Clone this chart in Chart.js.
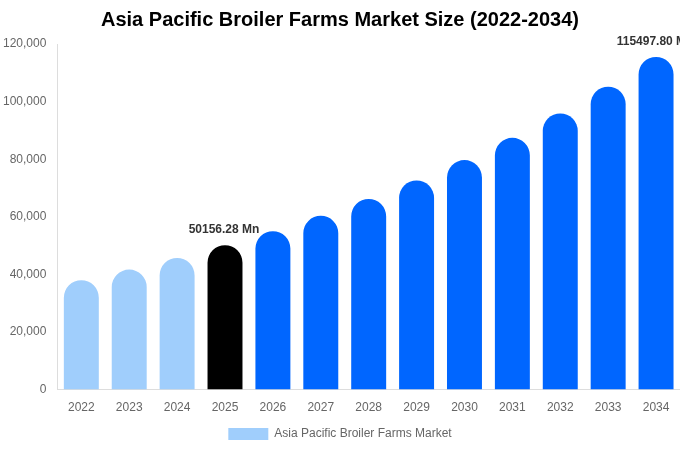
<!DOCTYPE html>
<html>
<head>
<meta charset="utf-8">
<script src="https://cdn.jsdelivr.net/npm/chart.js@4"></script>
<style>
  html, body { margin: 0; padding: 0; background: #fff; }
  #wrap { width: 680px; height: 450px; }
</style>
</head>
<body>
<div id="wrap"><canvas id="chart"></canvas></div>
<script>
// valores
const years = ['2022','2023','2024','2025','2026','2027','2028','2029','2030','2031','2032','2033','2034'];
const marketSize = [37990, 41680, 45720, 50156.28, 55020, 60360, 66210, 72630, 79680, 87410, 95890, 105190, 115497.80];
const barColors = ['#a0cefc','#a0cefc','#a0cefc','#000000','#0066ff','#0066ff','#0066ff','#0066ff','#0066ff','#0066ff','#0066ff','#0066ff','#0066ff'];
const labelledBars = { 3: '50156.28 Mn', 12: '115497.80 Mn' };

Chart.defaults.font.family = '"Liberation Sans", Arial, sans-serif';

// desenha os rótulos acima das barras destacadas
const valueLabels = {
  id: 'valueLabels',
  afterDatasetsDraw(chart) {
    const ctx = chart.ctx;
    const meta = chart.getDatasetMeta(0);
    ctx.save();
    ctx.font = 'bold 12px "Liberation Sans", Arial, sans-serif';
    ctx.fillStyle = '#333';
    ctx.textAlign = 'center';
    ctx.textBaseline = 'bottom';
    Object.keys(labelledBars).forEach(i => {
      const bar = meta.data[i];
      ctx.fillText(labelledBars[i], bar.x - 1, bar.y - 9);
    });
    ctx.restore();
  }
};

new Chart(document.getElementById('chart'), {
  type: 'bar',
  data: {
    labels: years,
    datasets: [{
      label: 'Asia Pacific Broiler Farms Market',
      data: marketSize,
      backgroundColor: barColors,
      borderRadius: { topLeft: 18, topRight: 18 },
      borderSkipped: 'bottom',
      barPercentage: 0.73,
      categoryPercentage: 1.0
    }]
  },
  options: {
    responsive: true,
    maintainAspectRatio: false,
    animation: false,
    plugins: {
      title: {
        display: true,
        text: 'Asia Pacific Broiler Farms Market Size (2022-2034)',
        color: '#000',
        font: { size: 20, weight: 'bold' },
        padding: { top: 8, bottom: 12 }
      },
      legend: {
        position: 'bottom',
        labels: {
          color: '#666',
          font: { size: 12 },
          boxWidth: 40,
          boxHeight: 12,
          generateLabels() {
            return [{ text: 'Asia Pacific Broiler Farms Market', fillStyle: '#a0cefc', strokeStyle: '#a0cefc', lineWidth: 0, datasetIndex: 0, fontColor: '#666' }];
          }
        }
      },
      tooltip: { enabled: false }
    },
    scales: {
      x: {
        grid: { display: false },
        border: { display: true, color: '#ddd' },
        ticks: { color: '#666', font: { size: 12 } }
      },
      y: {
        min: 0,
        max: 120000,
        grid: { display: false },
        border: { display: true, color: '#ddd' },
        ticks: { stepSize: 20000, color: '#666', font: { size: 12 } }
      }
    }
  },
  plugins: [valueLabels]
});
</script>
</body>
</html>
